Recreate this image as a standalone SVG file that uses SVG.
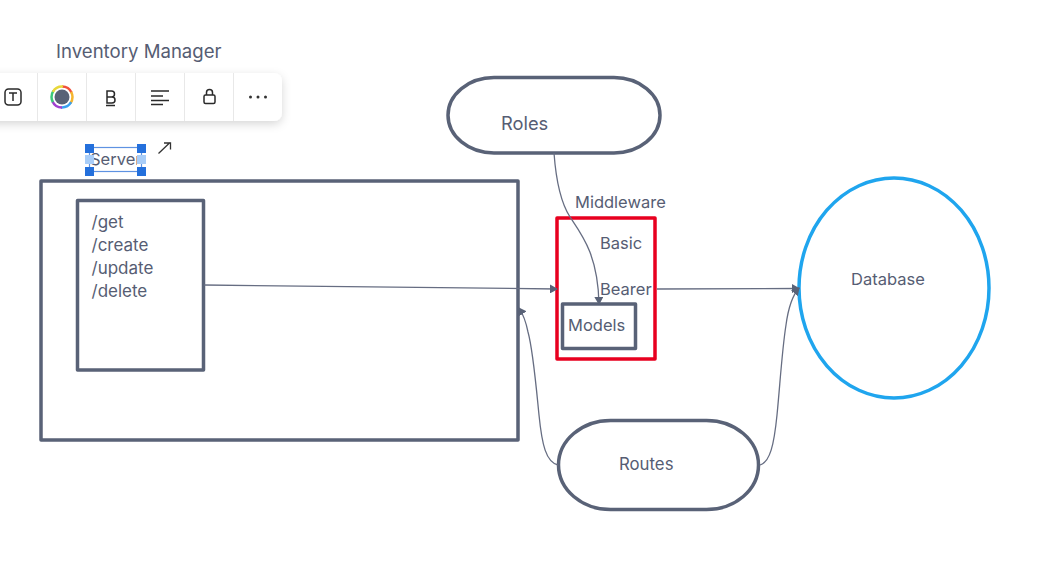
<svg xmlns="http://www.w3.org/2000/svg" width="1040" height="585" viewBox="0 0 1040 585">
<style>
text{font-family:Inter,"Liberation Sans",sans-serif;fill:#565d73;font-size:16.500px}
.p{font-size:17px}
.b{fill:none;stroke:#596277;stroke-width:3.500;stroke-linejoin:round}
.c{fill:none;stroke:#666d82;stroke-width:1.300}
.i{fill:none;stroke:#2a2a2a;stroke-width:1.500}
.d{stroke:#e8e8e8;stroke-width:1}
.h{fill:#2470dc}
.l{fill:#a8cdf8}
.r{fill:none;stroke-width:2.500}
</style>
<defs>
<marker id="a" markerWidth="8" markerHeight="9" refX="7" refY="4.500" orient="auto" markerUnits="userSpaceOnUse"><path d="M0 0L8 4.500L0 9Z" fill="#596277"/></marker>
<filter id="s" x="-10%" y="-30%" width="120%" height="170%"><feDropShadow dx="0" dy="3" stdDeviation="5" flood-color="#000" flood-opacity=".16"/></filter>
<clipPath id="k"><rect x="85" y="144" width="52" height="30"/></clipPath>
</defs>
<g id="title"><text x="56" y="58" style="font-size:18.600px">Inventory Manager</text></g>
<g id="toolbar">
<rect x="-20" y="73" width="302" height="48" rx="8" fill="#fff" filter="url(#s)"/>
<path class="d" d="M37.500 73V121M86.500 73V121M135.500 73V121M184.500 73V121M233.500 73V121"/>
<rect x="5" y="89" width="16" height="16" rx="3.500" class="i"/><path class="i" d="M9 93H17M13 93V101"/>
<g transform="rotate(-90 62 97)">
<circle class="r" cx="62" cy="97" r="10.500" pathLength="6" stroke="#f0503c" stroke-dasharray="1.100 4.900"/>
<circle class="r" cx="62" cy="97" r="10.500" pathLength="6" stroke="#f5b52e" stroke-dasharray="1.100 4.900" stroke-dashoffset="-1"/>
<circle class="r" cx="62" cy="97" r="10.500" pathLength="6" stroke="#3aa0f0" stroke-dasharray="1.100 4.900" stroke-dashoffset="-2"/>
<circle class="r" cx="62" cy="97" r="10.500" pathLength="6" stroke="#a040d0" stroke-dasharray="1.100 4.900" stroke-dashoffset="-3"/>
<circle class="r" cx="62" cy="97" r="10.500" pathLength="6" stroke="#3cc97a" stroke-dasharray="1.100 4.900" stroke-dashoffset="-4"/>
<circle class="r" cx="62" cy="97" r="10.500" pathLength="6" stroke="#e8d83a" stroke-dasharray="1.100 4.900" stroke-dashoffset="-5"/>
</g>
<circle cx="62" cy="97" r="7.500" fill="#596277"/>
<path class="i" d="M107 91H111.500Q114.500 91 114.500 94Q114.500 97 111.500 97H107ZM107 97H112Q115 97 115 100Q115 103 112 103H107V91M106 105.500H115"/>
<path class="i" d="M151 91H169M151 96H163M151 100.500H169M151 104.500H163"/>
<rect x="204" y="95" width="11" height="8.500" rx="1.500" class="i"/><path class="i" d="M206.500 95V92.500Q206.500 89.500 209.500 89.500Q212.500 89.500 212.500 92.500V95"/>
<circle cx="250.500" cy="97" r="1.500" fill="#333"/><circle cx="258" cy="97" r="1.500" fill="#333"/><circle cx="265.500" cy="97" r="1.500" fill="#333"/>
</g>
<g id="server-label">
<text x="90" y="165" clip-path="url(#k)">Server</text>
<rect x="89.500" y="147.500" width="52" height="24" fill="none" stroke="#5e92e2" stroke-width="1.200"/>
<rect x="85" y="144" width="9" height="9" class="h"/><rect x="137" y="144" width="9" height="9" class="h"/><rect x="85" y="167" width="9" height="9" class="h"/><rect x="137" y="167" width="9" height="9" class="h"/>
<rect x="85" y="155" width="9" height="9" class="l"/><rect x="137" y="155" width="9" height="9" class="l"/>
<path d="M158.500 153.500L170 142.500M164 143H170.500V149.500" fill="none" stroke="#333" stroke-width="1.300"/>
</g>
<g id="server"><rect class="b" x="41" y="181" width="477" height="259"/></g>
<g id="endpoints"><rect class="b" x="77.500" y="200.500" width="126" height="169.500"/>
<text class="p" x="91.500" y="228">/get</text><text class="p" x="91.500" y="251">/create</text><text class="p" x="91.500" y="274">/update</text><text class="p" x="91.500" y="297">/delete</text></g>
<g id="roles"><rect class="b" x="448" y="77.500" width="212" height="75.500" rx="46" ry="37.700"/><text x="501" y="130" style="font-size:18.300px">Roles</text></g>
<g id="middleware-label"><text x="575" y="208">Middleware</text></g>
<g id="middleware"><rect x="557" y="218" width="98" height="141" fill="none" stroke="#e8001f" stroke-width="3.500" stroke-linejoin="round"/>
<text x="600" y="249">Basic</text><text x="600" y="295">Bearer</text></g>
<g id="models"><rect class="b" x="562.500" y="304" width="73" height="44.500"/><text x="568" y="331">Models</text></g>
<g id="database"><ellipse cx="894" cy="288" rx="95" ry="110" fill="none" stroke="#1fa5ee" stroke-width="3.500"/><text x="851" y="285">Database</text></g>
<g id="routes"><rect class="b" x="558.500" y="420.500" width="200" height="89" rx="52" ry="44.500"/><text x="619" y="470" style="font-size:16.800px">Routes</text></g>
<g id="connectors">
<path class="c" d="M204 285L557 289" marker-end="url(#a)"/>
<path class="c" d="M657 289L799 288.500" marker-end="url(#a)"/>
<path class="c" d="M554 153C556 180 561 203 570 217C582 235 598 255 599 304" marker-end="url(#a)"/>
<path class="c" d="M558 465C546 462 542 445 539 415C536 385 533 350 528 332C526 322 523 314 519 308" marker-end="url(#a)"/>
<path class="c" d="M760 465C770 462 774 445 777 415C780 385 782 350 786 325C788 310 792 296 799 288" marker-end="url(#a)"/>
</g>
</svg>
